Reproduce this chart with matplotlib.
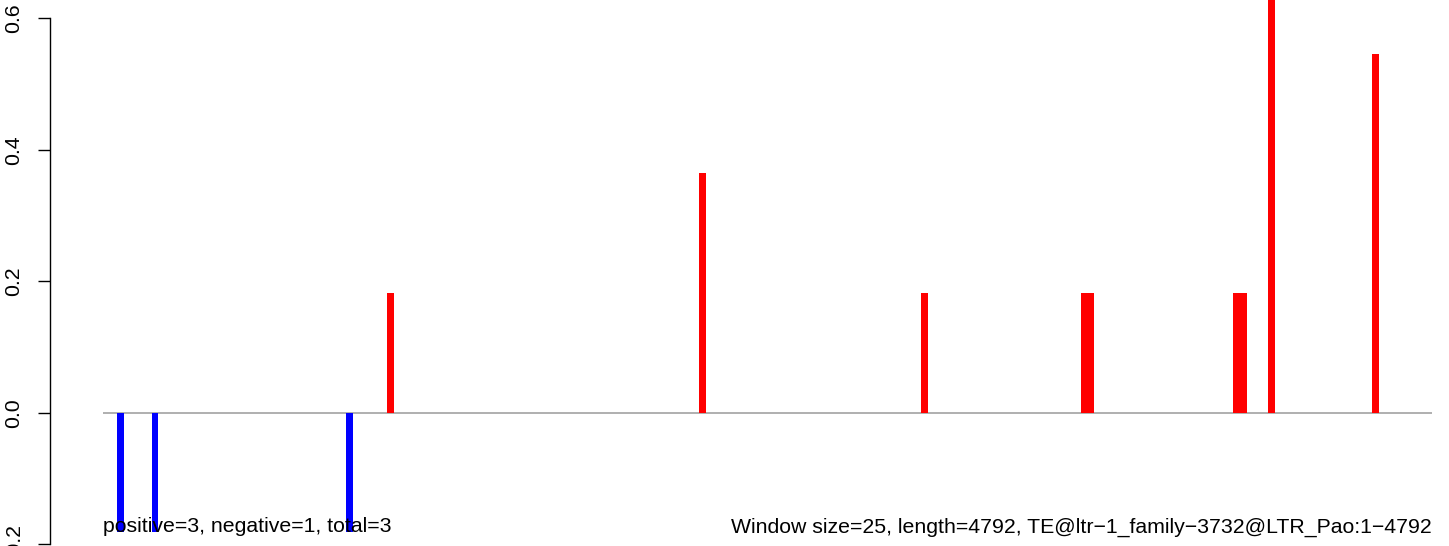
import matplotlib
matplotlib.use("Agg")
import matplotlib.pyplot as plt

# window centres (bp) and scores, window size 25
pos_x = [1037.5, 2162.5, 2962.5, 3537.5, 3562.5, 4087.5, 4112.5, 4212.5, 4587.5]
pos_y = [0.182, 0.364, 0.182, 0.182, 0.182, 0.182, 0.182, 0.727, 0.545]
neg_x = [62.5, 187.5, 887.5]
neg_y = [-0.182, -0.182, -0.182]

seq_len = 4792
win = 25
yticks = [-0.2, 0.0, 0.2, 0.4, 0.6]
left_note = "positive=3, negative=1, total=3"
right_note = "Window size=25, length=4792, TE@ltr\u22121_family\u22123732@LTR_Pao:1\u22124792"

plt.rcParams['font.family'] = ['Liberation Sans', 'DejaVu Sans']
fs = 15.3

fig = plt.figure(figsize=(14.49, 5.46), dpi=100)
ax = fig.add_axes([0, 0, 1, 1])

ax.hlines(0, 1, seq_len, color='#A9A9A9', lw=1.3, zorder=1)
ax.bar(pos_x, pos_y, width=win, color='#FF0000', linewidth=0, zorder=2)
ax.bar(neg_x, neg_y, width=win, color='#0000FF', linewidth=0, zorder=2)

# pixel -> data mapping so the plot sits like the original
px = 3.6058
ax.set_xlim(1 - 103.3 * px, seq_len + 17 * px)
ax.set_ylim(-0.2027, 0.6277)

for s in ['top', 'right', 'bottom']:
    ax.spines[s].set_visible(False)
ax.spines['left'].set_position(('axes', 50 / 1449))
ax.spines['left'].set_bounds(-0.2, 0.6)
ax.spines['left'].set_linewidth(1.0)
ax.set_xticks([])
ax.set_yticks(yticks)
ax.set_yticklabels(["\u22120.2" if v < 0 else f"{v:.1f}" for v in yticks], fontsize=fs)
ax.tick_params(axis='y', direction='out', length=9, width=1.0, pad=10, labelrotation=90)
for t in ax.get_yticklabels():
    t.set_va('center')
    t.set_ha('right')
ax.patch.set_alpha(0)

ax.text(1, min(neg_y), left_note, ha='left', va='baseline', fontsize=fs)
ax.text(seq_len, min(neg_y), right_note, ha='right', va='baseline', fontsize=fs)

fig.savefig("out.png", dpi=100)
